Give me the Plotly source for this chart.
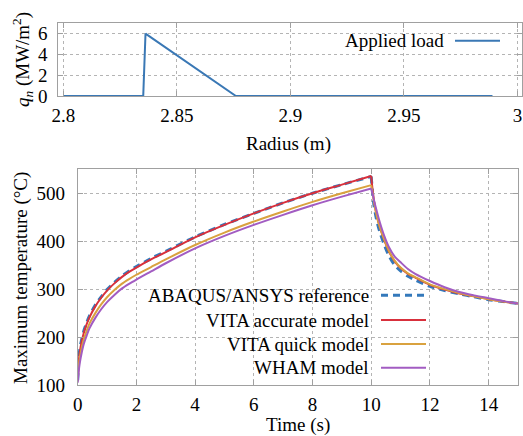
import plotly.graph_objects as go

W, H = 523, 436
FONT = "Liberation Serif, Times New Roman, serif"

# ---- top panel: applied load ----
radius = [2.8, 2.8352, 2.8362, 2.876, 2.989]
load = [0, 0, 5.95, 0, 0]

# ---- bottom panel: maximum temperature ----
time = [0, 0.05, 0.1, 0.2, 0.3, 0.4, 0.6, 0.8, 1.0, 1.25, 1.5, 1.75, 2, 2.5, 3, 4, 5, 6, 7, 8, 9, 10,
        10.05, 10.1, 10.2, 10.3, 10.45, 10.6, 10.8, 11.0, 11.25, 11.5, 12, 12.5, 13, 13.5, 14, 14.5, 15]
ref_T = [110, 163, 185, 211, 229, 244, 267, 284, 299, 314, 327, 338, 347, 364, 379, 409, 435, 458, 480, 500, 518, 535,
         497, 472, 440, 418, 392, 370, 350, 338, 327, 319, 306, 297, 290, 284, 278, 274, 270]
vita_acc_T = [110, 158, 180, 207, 226, 241, 264, 282, 297, 312, 325, 336, 345, 362, 377, 408, 434, 458, 480, 500, 518, 536,
              505, 482, 450, 428, 401, 379, 358, 344, 332, 324, 309, 299, 291, 285, 279, 274, 270]
vita_quick_T = [108, 147, 167, 194, 212, 228, 250, 268, 283, 298, 311, 321, 330, 346, 362, 392, 418, 441, 462, 482, 500, 517,
                500, 480, 450, 428, 402, 380, 359, 345, 333, 325, 310, 300, 292, 285, 279, 274, 270]
wham_T = [105, 137, 156, 184, 202, 218, 240, 258, 273, 288, 301, 311, 320, 337, 354, 385, 411, 434, 455, 475, 493, 510,
          498, 484, 460, 438, 410, 388, 368, 356, 342, 332, 317, 304, 294, 287, 281, 275, 270]

series_names = ["ABAQUS/ANSYS reference", "VITA accurate model", "VITA quick model", "WHAM model"]
series_vals = [ref_T, vita_acc_T, vita_quick_T, wham_T]
series_colors = ["#3479bb", "#d8303c", "#d9a23f", "#a25cc2"]
series_dash = ["7px,5px", "solid", "solid", "solid"]
series_width = [3, 2, 2, 2]

top_xticks = [2.8, 2.85, 2.9, 2.95, 3.0]
top_xticktext = ["2.8", "2.85", "2.9", "2.95", "3"]
top_yticks = [0, 2, 4, 6]
bot_xticks = [0, 2, 4, 6, 8, 10, 12, 14]
bot_yticks = [100, 200, 300, 400, 500]

fig = go.Figure()
fig.add_trace(go.Scatter(x=radius, y=load, mode="lines", line=dict(color="#3a78b5", width=2),
                         xaxis="x", yaxis="y", showlegend=False))

# split each series at the end of loading (t = 10) so that each smooth branch keeps the sharp peak
i_peak = time.index(10)
for name, vals, col, dash, wd in zip(series_names, series_vals, series_colors, series_dash, series_width):
    for sl in (slice(0, i_peak + 1), slice(i_peak, None)):
        fig.add_trace(go.Scatter(x=time[sl], y=vals[sl], mode="lines", name=name,
                                 line=dict(color=col, width=wd, dash=dash, shape="spline", smoothing=0.8),
                                 xaxis="x2", yaxis="y2", showlegend=False))

def px(x):
    """window pixel x -> paper fraction"""
    return x / W

def py(y):
    """window pixel y -> paper fraction"""
    return 1 - y / H

axis_common = dict(showline=True, linecolor="#a0a0a0", linewidth=1, mirror="ticks",
                   ticks="inside", ticklen=5, tickcolor="#a0a0a0",
                   showgrid=True, gridcolor="#b4b4b4", griddash="dot", gridwidth=1,
                   zeroline=False, automargin=False, ticklabeloverflow="allow",
                   tickfont=dict(family=FONT, size=19, color="black"))

fig.update_layout(
    width=W, height=H, margin=dict(l=0, r=0, t=0, b=0, pad=0, autoexpand=False),
    paper_bgcolor="white", plot_bgcolor="white",
    font=dict(family=FONT, size=19, color="black"),
    xaxis=dict(domain=[px(58.3), px(522)], range=[2.7978, 3.002], tickvals=top_xticks,
               ticktext=top_xticktext, anchor="y", ticklabelstandoff=2, **axis_common),
    yaxis=dict(domain=[py(96), py(22.7)], range=[0, 7], tickvals=top_yticks, anchor="x",
               ticklabelstandoff=6, **axis_common),
    xaxis2=dict(domain=[px(77.7), px(518)], range=[0, 15], tickvals=bot_xticks, anchor="y2",
                ticklabelstandoff=2, **axis_common),
    yaxis2=dict(domain=[py(385), py(169.3)], range=[100, 550], tickvals=bot_yticks, anchor="x2",
                ticklabelstandoff=8, **axis_common),
)

# white masks behind legends (hide grid, stay below traces)
fig.add_shape(type="rect", xref="paper", yref="paper", x0=px(330), x1=px(507), y0=py(50), y1=py(28),
              fillcolor="white", line=dict(width=0), layer="between")
fig.add_shape(type="rect", xref="paper", yref="paper", x0=px(136), x1=px(432), y0=py(379), y1=py(284),
              fillcolor="white", line=dict(width=0), layer="between")

# legend: top
fig.add_annotation(x=px(446), y=py(40.7), xref="paper", yref="paper", text="Applied load",
                   showarrow=False, xanchor="right", yanchor="middle", font=dict(family=FONT, size=19))
fig.add_shape(type="line", xref="paper", yref="paper", x0=px(455), x1=px(500), y0=py(40.7), y1=py(40.7),
              line=dict(color="#3a78b5", width=2))

# legend: bottom
rows_y = [295.3, 320, 344, 367.7]
for name, col, dash, wd, ry in zip(series_names, series_colors, series_dash, series_width, rows_y):
    fig.add_annotation(x=px(370.7), y=py(ry), xref="paper", yref="paper", text=name,
                       showarrow=False, xanchor="right", yanchor="middle", font=dict(family=FONT, size=19))
    fig.add_shape(type="line", xref="paper", yref="paper", x0=px(381), x1=px(426), y0=py(ry), y1=py(ry),
                  line=dict(color=col, width=wd, dash=dash))

# axis titles
fig.add_annotation(x=px(288), y=py(144), xref="paper", yref="paper", text="Radius (m)",
                   showarrow=False, xanchor="center", yanchor="middle", font=dict(family=FONT, size=19))
fig.add_annotation(x=px(298), y=py(425), xref="paper", yref="paper", text="Time (s)",
                   showarrow=False, xanchor="center", yanchor="middle", font=dict(family=FONT, size=19))
fig.add_annotation(x=px(21), y=py(278), xref="paper", yref="paper", text="Maximum temperature (°C)",
                   showarrow=False, xanchor="center", yanchor="middle", textangle=-90,
                   font=dict(family=FONT, size=19))
fig.add_annotation(x=px(22), y=py(60), xref="paper", yref="paper",
                   text="<i>q</i><sub><i>n</i></sub> (MW/m<sup>2</sup>)",
                   showarrow=False, xanchor="center", yanchor="middle", textangle=-90,
                   font=dict(family=FONT, size=19))

# remove the default 8 px page margin so the 523x436 figure fills the window exactly
fig.write_html("out.html", config={"displayModeBar": False},
               post_script="document.body.style.margin='0';document.documentElement.style.overflow='hidden';")
